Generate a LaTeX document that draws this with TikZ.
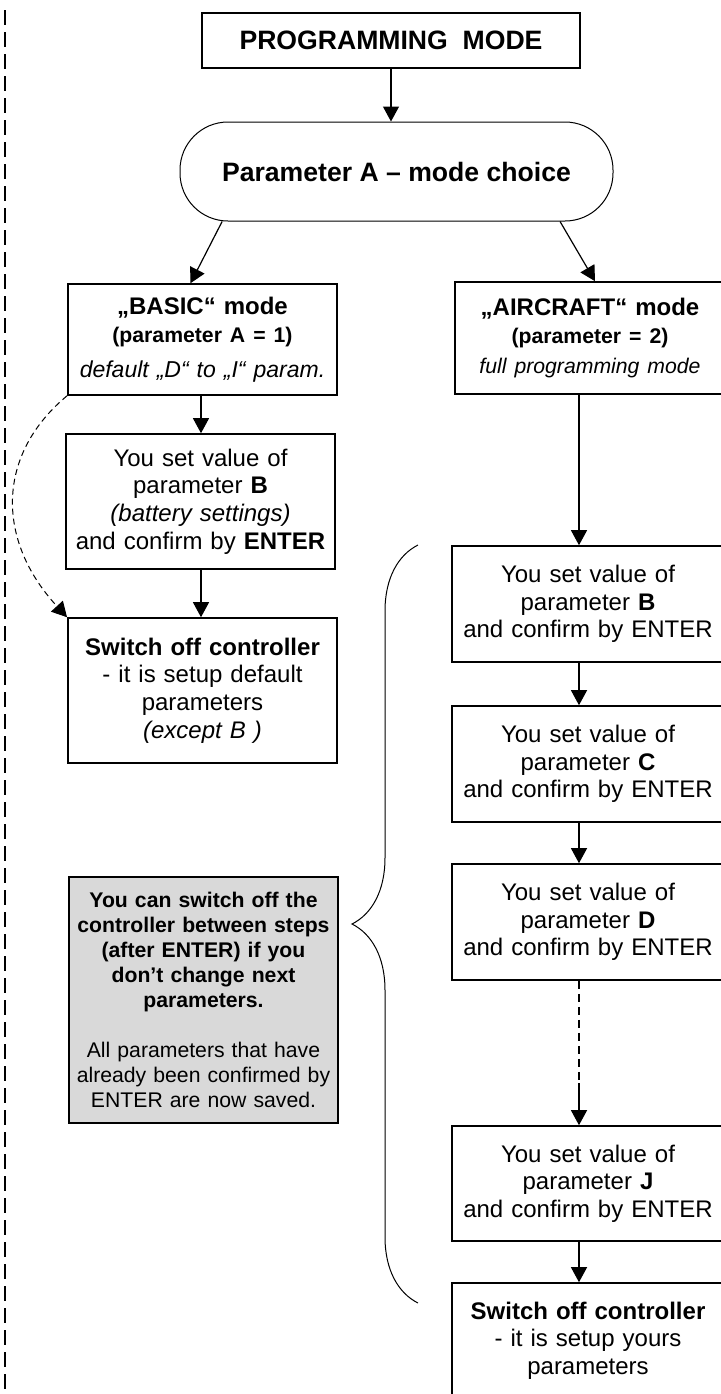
\documentclass[tikz,border=0pt]{standalone}
\usepackage{fontspec}
\setmainfont{Liberation Sans}
\usepackage{tikz}
\usetikzlibrary{arrows.meta, positioning, decorations.pathreplacing, calc}
\definecolor{NoteGray}{RGB}{217,217,217}
\tikzstyle{arrow} = [line width=0.6pt, -{Triangle[length=7.5pt,width=8pt]}]
\tikzstyle{stepbox} = [draw, line width=0.8pt, align=center, text width=128pt, minimum width=134.5pt, font=\fontsize{12}{13.8}\selectfont]
\tikzstyle{rightbox} = [stepbox, minimum width=136pt]
\tikzstyle{notebox} = [draw, line width=0.8pt, fill=NoteGray, align=center, text width=127pt, minimum width=134.5pt, minimum height=123pt, font=\fontsize{10.6}{12.5}\selectfont]
\tikzstyle{skiparrow} = [line width=0.5pt, dash pattern=on 3pt off 2pt, -{Triangle[length=7.5pt,width=8pt]}]

\begin{document}
\begin{tikzpicture}[x=0.5pt, y=-0.5pt]
\useasboundingbox (0,0) rectangle (721,1394);

% page margin line
\draw[line width=1pt, dash pattern=on 7.5pt off 3.5pt] (5,10) -- (5,1394);

\node[draw, line width=1.2pt, minimum width=189pt, minimum height=27.5pt,
      font=\fontsize{13.3}{16}\selectfont\bfseries] (title) at (391,40.5) {PROGRAMMING~~MODE};
\node[draw, line width=0.5pt, rounded corners=24pt, minimum width=216.5pt, minimum height=49.5pt,
      font=\fontsize{13.3}{16}\selectfont\bfseries] (mode) at (396.5,171.5) {Parameter A – mode choice};

% basic mode column
\node[stepbox, minimum height=55.5pt] (basic) at (202.5,339.5) {%
  {\bfseries „BASIC“ mode}\\
  {\fontsize{10.6}{13.8}\selectfont\bfseries (parameter A = 1)}\\[3.7pt]
  {\fontsize{11.5}{13.8}\selectfont\itshape default „D“ to „I“ param.}};
\node[stepbox, minimum height=67.5pt] (lB) at (200.5,501.5) {%
  You set value of\\ parameter \textbf{B}\\ \textit{(battery settings)}\\ and confirm by \textbf{ENTER}};
\node[stepbox, minimum height=72.5pt] (lOff) at (202.5,690.5) {%
  \textbf{Switch off controller}\\ - it is setup default\\ parameters\\ \textit{(except B )}};

\node[notebox] (note) at (203.5,1000) {%
  \textbf{You can switch off the}\\ \textbf{controller between steps}\\ \textbf{(after ENTER) if you}\\
  \textbf{don’t change next}\\ \textbf{parameters.}\\[12.5pt]
  All parameters that have\\ already been confirmed by\\ ENTER are now saved.};

% aircraft mode column
\node[rightbox, minimum width=135pt, minimum height=56pt] (aircraft) at (590,338) {%
  {\bfseries „AIRCRAFT“ mode}\\
  {\fontsize{10.6}{13.8}\selectfont\bfseries (parameter = 2)}\\[1.5pt]
  {\fontsize{10.6}{13.8}\selectfont\itshape full programming mode}};
\node[rightbox, minimum height=58pt] (rB) at (588,604) {You set value of\\ parameter \textbf{B}\\ and confirm by ENTER};
\node[rightbox, minimum height=58pt] (rC) at (588,764) {You set value of\\ parameter \textbf{C}\\ and confirm by ENTER};
\node[rightbox, minimum height=58pt] (rD) at (588,922) {You set value of\\ parameter \textbf{D}\\ and confirm by ENTER};
\node[rightbox, minimum height=57.5pt] (rJ) at (588,1183.5) {You set value of\\ parameter \textbf{J}\\ and confirm by ENTER};
\node[rightbox, minimum height=57.5pt] (rOff) at (588,1340.5) {%
  \textbf{Switch off controller}\\ - it is setup yours\\ parameters};

\coordinate (lcol) at (201,0);
\coordinate (rcol) at (579,0);
\coordinate (skip) at (579,1083);
\coordinate (braceTop) at (418,545);
\coordinate (braceBot) at (418,1303);

% connections
\draw[arrow] (title.south) -- (title.south |- mode.north);
\draw[arrow] (mode.196) -- ($(basic.north)+(-12,0)$);
\draw[arrow] (mode.343) -- ($(aircraft.north)+(5,0)$);
\draw[arrow] (basic.south -| lcol) -- (lB.north -| lcol);
\draw[arrow] (lB.south -| lcol) -- (lOff.north -| lcol);
\draw[skiparrow] (basic.south west) .. controls (-4,455) and (-4,540) .. (lOff.north west);
\draw[arrow] (aircraft.south -| rcol) -- (rB.north -| rcol);
\draw[arrow] (rB.south -| rcol) -- (rC.north -| rcol);
\draw[arrow] (rC.south -| rcol) -- (rD.north -| rcol);
\draw[line width=0.8pt, dash pattern=on 4pt off 2.5pt] (rD.south -| rcol) -- (skip);
\draw[arrow] (skip) -- (rJ.north -| rcol);
\draw[arrow] (rJ.south -| rcol) -- (rOff.north -| rcol);

% brace round the aircraft steps
\draw[line width=0.5pt, decorate, decoration={brace, amplitude=33pt}] (braceBot) -- (braceTop);
\end{tikzpicture}
\end{document}
